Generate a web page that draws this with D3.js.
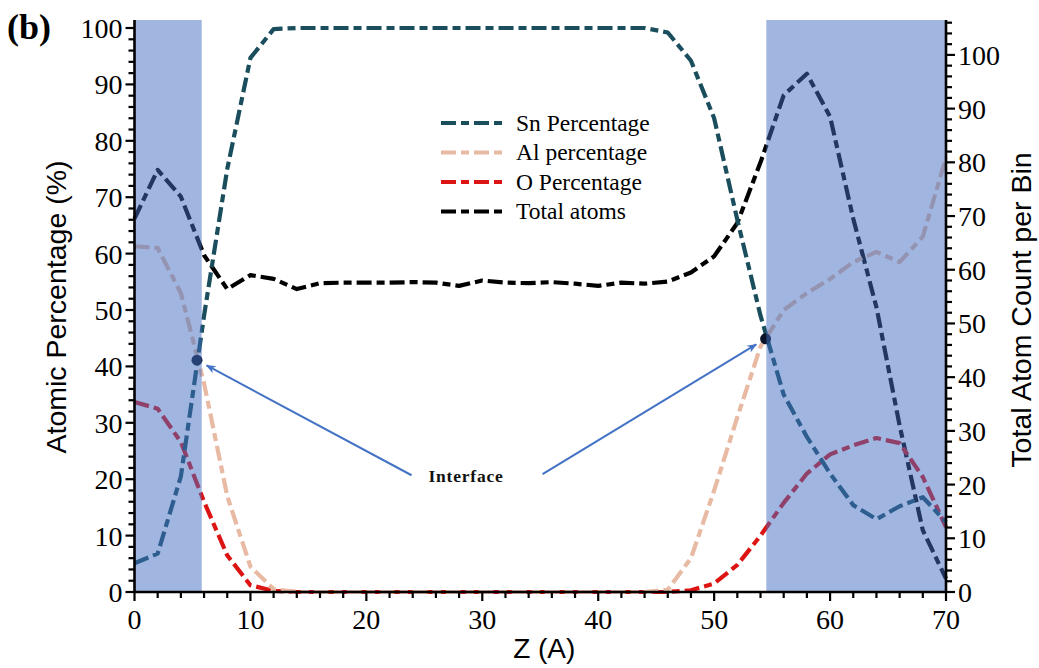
<!DOCTYPE html>
<html><head><meta charset="utf-8">
<script src="https://cdn.jsdelivr.net/npm/d3@7"></script>
<style>body{margin:0;background:#fff}</style>
</head><body><svg id="c" width="1039" height="668"></svg>
<script>
const zValues = [0,2,4,6,8,10,12,14,16,18,20,22,24,26,28,30,32,34,36,38,40,42,44,46,48,50,52,54,56,58,60,62,64,66,68,70];
const snPct   = [5.1,6.8,20.5,49,75,94.7,99.8,100,100,100,100,100,100,100,100,100,100,100,100,100,100,100,100,99.2,94.2,84,66,49,35,27.5,21,15.4,12.9,15.2,16.8,12.4];
const alPct   = [61.3,61,53,37,17,4.5,0.5,0,0,0,0,0,0,0,0,0,0,0,0,0,0,0,0,0.4,6,18,31,43.5,50,53,55.5,58.5,60.3,58.5,63,77];
const oPct    = [33.7,32.5,26.6,16,6.5,1.2,0.2,0,0,0,0,0,0,0,0,0,0,0,0,0,0,0,0,0,0.3,1.5,4.8,10,15.8,21,24.4,26,27.3,26.4,20.4,11.5];
const totalAtoms = [69.5,78.6,73.6,62.7,56.4,59,58.3,56.4,57.5,57.6,57.6,57.6,57.7,57.6,57.0,58.0,57.6,57.5,57.7,57.4,57.0,57.6,57.4,57.8,59.5,62.5,68.7,80,92.5,96.5,88.5,69.5,53,31,11.5,2.5];
const seriesNames = ["Sn Percentage","Al percentage","O Percentage","Total atoms"];
const seriesColors = ["#1b4e5d","#e8b9a3","#dc1414","#000000"];
const shadeRanges = [[0,5.8],[54.5,70]];
const interfacePts = [[5.39,41.1],[54.44,44.9]];
const xTicks = [0,10,20,30,40,50,60,70];
const yLeftTicks = [0,10,20,30,40,50,60,70,80,90,100];
const yRightTicks = [0,10,20,30,40,50,60,70,80,90,100];
const annotationText = "Interface";
const annotationPos = [28.6,20.6];
const arrowStarts = [[23.9,20.7],[35.2,20.9]];

const svg = d3.select("#c");
const L = 134.5, R = 946, T = 20, B = 592;
const x = d3.scaleLinear().domain([0,70]).range([L,R]);
const yL = d3.scaleLinear().domain([0,101.42]).range([B,T]);
const yR = d3.scaleLinear().domain([0,106.5]).range([B,T]);

const dash = "15,5,8,5";
const mk = (vals, sc) => d3.line().x((d,i)=>x(zValues[i])).y(d=>sc(d))(vals);

const lines = [[snPct,yL],[alPct,yL],[oPct,yL],[totalAtoms,yR]];
const order = [3,2,1,0];
order.forEach(k=>{
  svg.append("path").attr("d", mk(lines[k][0], lines[k][1]))
    .attr("fill","none").attr("stroke",seriesColors[k]).attr("stroke-width",4.2)
    .attr("stroke-dasharray",dash).attr("stroke-linejoin","round");
});

svg.selectAll(".dot").data(interfacePts).enter().append("circle")
  .attr("cx",d=>x(d[0])).attr("cy",d=>yL(d[1])).attr("r",5.5).attr("fill","#0a1428");

svg.selectAll(".shade").data(shadeRanges).enter().append("rect")
  .attr("x",d=>x(d[0])).attr("width",d=>x(d[1])-x(d[0]))
  .attr("y",T).attr("height",B-T)
  .attr("fill","#416dc1").attr("fill-opacity",0.5);

const defs = svg.append("defs");
defs.append("marker").attr("id","ah").attr("viewBox","0 0 10 10").attr("refX",9).attr("refY",5)
  .attr("markerWidth",5).attr("markerHeight",5).attr("orient","auto")
  .append("path").attr("d","M0,1 L10,5 L0,9 L3,5 Z").attr("fill","#4472c4");
arrowStarts.forEach((s,i)=>{
  const p = interfacePts[i];
  const sx = x(s[0]), sy = yL(s[1]), px = x(p[0]), py = yL(p[1]);
  const dx = px-sx, dy = py-sy, len = Math.hypot(dx,dy);
  const ex = px - dx/len*11, ey = py - dy/len*11;
  svg.append("line").attr("x1",sx).attr("y1",sy).attr("x2",ex).attr("y2",ey)
    .attr("stroke","#4472c4").attr("stroke-width",2).attr("marker-end","url(#ah)");
});
svg.append("text").attr("x",x(annotationPos[0])).attr("y",yL(annotationPos[1])+6)
  .attr("text-anchor","middle").attr("font-family","Liberation Serif").attr("font-weight","bold")
  .attr("font-size",17.5).attr("letter-spacing",0.8).attr("fill","#111").text(annotationText);

const serif = "Liberation Serif", sans = "Liberation Sans";
const ax = svg.append("g").attr("stroke","#000");
ax.append("line").attr("x1",L).attr("x2",L).attr("y1",T).attr("y2",B+1).attr("stroke-width",2.6);
ax.append("line").attr("x1",R).attr("x2",R).attr("y1",T).attr("y2",B+1).attr("stroke-width",2.6);
ax.append("line").attr("x1",L-1).attr("x2",R+1).attr("y1",B).attr("y2",B).attr("stroke-width",2.6);

d3.range(0,71,2).forEach(v=>{
  const major = v%10===0;
  ax.append("line").attr("x1",x(v)).attr("x2",x(v)).attr("y1",B).attr("y2",B+(major?9:6)).attr("stroke-width",2.2);
});
svg.selectAll(".xt").data(xTicks).enter().append("text")
  .attr("x",d=>x(d)).attr("y",B+37).attr("text-anchor","middle")
  .attr("font-family",serif).attr("font-size",28).text(d=>d);

d3.range(0,101.5,2).forEach(v=>{
  const major = v%10===0;
  ax.append("line").attr("x1",L-(major?9:6)).attr("x2",L).attr("y1",yL(v)).attr("y2",yL(v)).attr("stroke-width",2.2);
});
svg.selectAll(".yl").data(yLeftTicks).enter().append("text")
  .attr("x",L-12).attr("y",d=>yL(d)+10).attr("text-anchor","end")
  .attr("font-family",serif).attr("font-size",28).text(d=>d);

d3.range(0,106.5,2).forEach(v=>{
  const major = v%10===0;
  ax.append("line").attr("x1",R).attr("x2",R+(major?9:6)).attr("y1",yR(v)).attr("y2",yR(v)).attr("stroke-width",2.2);
});
svg.selectAll(".yr").data(yRightTicks).enter().append("text")
  .attr("x",R+12).attr("y",d=>yR(d)+10).attr("text-anchor","start")
  .attr("font-family",serif).attr("font-size",28).text(d=>d);

svg.append("text").attr("transform",`translate(${(L+R)/2+4},658)`).attr("text-anchor","middle")
  .attr("font-family",sans).attr("font-size",28).text("Z (A)");
svg.append("text").attr("transform","translate(66,307) rotate(-90)").attr("text-anchor","middle")
  .attr("font-family",sans).attr("font-size",28.5).text("Atomic Percentage (%)");
svg.append("text").attr("transform","translate(1031,310) rotate(-90)").attr("text-anchor","middle")
  .attr("font-family",sans).attr("font-size",28.5).text("Total Atom Count per Bin");
svg.append("text").attr("x",7).attr("y",39).attr("font-family",serif).attr("font-weight","bold")
  .attr("font-size",36).text("(b)");

const lg = svg.append("g").attr("transform","translate(441,123)");
seriesNames.forEach((n,i)=>{
  const yy = i*29.5;
  lg.append("line").attr("x1",0).attr("x2",64).attr("y1",yy).attr("y2",yy)
    .attr("stroke",seriesColors[i]).attr("stroke-width",4.2).attr("stroke-dasharray",dash);
  lg.append("text").attr("x",75).attr("y",yy+7.5).attr("font-family",serif).attr("font-size",23.5).text(n);
});
</script></body></html>
